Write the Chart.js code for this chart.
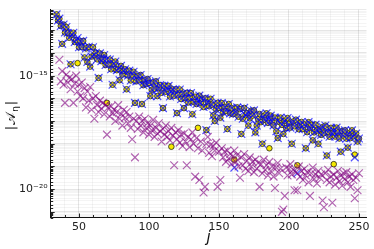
<!DOCTYPE html>
<html>
<head>
<meta charset="utf-8">
<script src="https://cdn.jsdelivr.net/npm/chart.js@4.4.0/dist/chart.umd.min.js"></script>
<style>
  html, body { margin: 0; padding: 0; background: #fff; }
</style>
</head>
<body>
<canvas id="chart" width="374" height="249"></canvas>
<script>
// j index (x axis)
const J = [
  34,35,36,37,38,39,40,41,42,43,
  44,45,46,47,48,49,50,51,52,53,
  54,55,56,57,58,59,60,61,62,63,
  64,65,66,67,68,69,70,71,72,73,
  74,75,76,77,78,79,80,81,82,83,
  84,85,86,87,88,89,90,91,92,93,
  94,95,96,97,98,99,100,101,102,103,
  104,105,106,107,108,109,110,111,112,113,
  114,115,116,117,118,119,120,121,122,123,
  124,125,126,127,128,129,130,131,132,133,
  134,135,136,137,138,139,140,141,142,143,
  144,145,146,147,148,149,150,151,152,153,
  154,155,156,157,158,159,160,161,162,163,
  164,165,166,167,168,169,170,171,172,173,
  174,175,176,177,178,179,180,181,182,183,
  184,185,186,187,188,189,190,191,192,193,
  194,195,196,197,198,199,200,201,202,203,
  204,205,206,207,208,209,210,211,212,213,
  214,215,216,217,218,219,220,221,222,223,
  224,225,226,227,228,229,230,231,232,233,
  234,235,236,237,238,239,240,241,242,243,
  244,245,246,247,248,249,250
];

// log10 |A_j|, blue crosses (same j order)
const blueLog = [
  -12.3,-12.57,-12.49,-12.81,-13.6,-12.75,-13.1,-12.86,-13.12,-13.33,
  -14.5,-13.2,-13.11,-13.52,-13.43,-13.34,-13.75,-13.49,-13.73,-13.47,
  -14.2,-13.8,-14.4,-13.73,-14.6,-14.16,-13.75,-14.09,-13.99,-14.28,
  -15.1,-14.02,-14.36,-14.25,-14.09,-14.53,-14.27,-14.5,-14.29,-14.72,
  -15.4,-14.49,-14.38,-14.76,-14.7,-15.2,-14.57,-14.95,-14.79,-14.72,
  -15.6,-14.99,-14.78,-15.21,-14.95,-14.83,-16.2,-15.25,-15.02,-15.2,
  -14.97,-16.25,-15.42,-15.2,-15.37,-15.15,-15.32,-15.9,-15.62,-15.3,
  -15.57,-15.25,-15.9,-15.55,-15.42,-15.75,-16.43,-15.44,-15.71,-15.58,
  -15.45,-15.92,-15.69,-15.61,-15.88,-15.6,-16.65,-15.84,-15.61,-16.03,
  -15.8,-16.43,-15.99,-15.76,-16.18,-15.95,-15.77,-16.7,-16.16,-15.93,
  -16.25,-16.11,-15.88,-16.2,-16.02,-16.38,-16.0,-17.4,-16.18,-16.35,
  -16.02,-16.28,-16.75,-17.0,-16.49,-16.2,-16.42,-16.85,-16.21,-16.62,
  -16.39,-16.56,-17.35,-16.25,-16.66,-16.43,-16.7,-19.05,-16.58,-16.4,
  -16.81,-16.48,-17.57,-16.9,-16.42,-16.74,-16.65,-17.2,-16.88,-16.55,
  -16.76,-16.53,-17.5,-17.2,-16.92,-16.69,-17.05,-18.0,-16.78,-16.95,
  -16.66,-17.08,-16.89,-16.76,-17.02,-17.19,-16.85,-17.45,-17.75,-17.04,
  -16.85,-17.17,-17.57,-16.99,-17.31,-16.87,-17.13,-17.29,-18.0,-17.02,
  -17.23,-16.94,-19.3,-17.36,-17.18,-17.04,-17.35,-17.16,-18.2,-17.49,
  -17.05,-17.31,-17.17,-17.85,-17.5,-17.16,-17.42,-18.0,-17.35,-17.61,
  -17.27,-17.54,-17.2,-18.52,-17.48,-17.69,-17.3,-17.56,-17.42,-17.68,
  -17.29,-17.51,-17.77,-18.35,-17.44,-17.65,-17.41,-17.77,-18.17,-17.54,
  -17.75,-17.41,-17.67,-18.6,-17.55,-17.9,-17.77
];

// log10 |A_j|, purple crosses
const purpleLog = [
  null,null,-14.3,-15.25,-14.8,-15.4,-16.2,-14.95,-15.3,-15.1,
  -15.6,-15.15,-16.2,-15.35,-15.0,-15.7,-15.4,-15.9,-15.3,-16.0,
  -15.55,-16.4,-15.7,-16.1,-15.5,-16.5,-16.0,-16.9,-15.9,-16.3,
  -16.6,-16.1,-16.45,-16.2,-16.7,-16.3,-17.6,-16.4,-16.8,-16.35,
  -16.65,-16.5,-17.0,-16.6,-16.3,-16.9,-16.7,-17.2,-16.5,-16.85,
  -16.6,-17.1,-16.8,-17.3,-17.8,-16.9,-18.6,-17.0,-17.35,-16.8,
  -17.2,-17.0,-17.5,-16.9,-17.3,-17.1,-17.6,-17.2,-17.4,-16.95,
  -17.7,-17.3,-17.55,-17.1,-17.45,-17.9,-17.35,-17.6,-17.2,-17.7,
  -17.45,-17.85,-17.3,-17.65,-18.95,-17.5,-17.8,-17.4,-17.95,-17.6,
  -18.1,-17.55,-17.9,-18.95,-17.7,-18.15,-17.8,-17.5,-18.0,-19.45,
  -17.75,-18.2,-19.6,-17.9,-18.3,-20.15,-19.9,-18.0,-17.7,-18.4,
  -18.05,-18.55,-18.1,-18.3,-17.95,-19.9,-18.35,-19.6,-18.2,-18.6,
  -18.35,-18.8,-18.3,-18.65,-18.45,-18.9,-18.55,-18.3,-18.8,-18.5,
  -19.0,-19.5,-18.6,-18.95,-18.45,-19.1,-18.75,-19.2,-18.6,-19.0,
  -18.8,-19.25,-18.7,-19.1,-18.85,-19.9,-18.9,-19.3,-18.7,-19.15,
  -18.95,-19.4,-18.8,-19.2,-19.0,-19.45,-19.95,-19.05,-18.85,-19.3,
  -19.1,-21.0,-20.9,-20.3,-19.05,-19.4,-19.1,-18.9,-19.35,-19.15,
  -20.05,-19.25,-20.05,-19.0,-19.45,-19.2,-19.6,-19.1,-19.4,-19.25,
  -19.7,-20.3,-19.3,-19.05,-19.55,-19.35,-19.75,-19.2,-19.5,-19.35,
  -20.5,-20.8,-19.3,-19.6,-19.15,-19.7,-19.45,-20.6,-19.35,-19.8,
  -19.5,-19.2,-19.65,-19.4,-19.85,-19.3,-19.55,-19.25,-19.7,-19.45,
  -19.9,-19.35,-19.6,-20.4,-19.5,-20.05,-19.3
];

// yellow circles sit on the blue crosses except at these j: [j, log10 value]
const yellowApart = [
  [49,-14.45],[70,-16.2],[116,-18.13],[135,-17.3],[161,-18.7],
  [186,-18.2],[206,-18.95],[232,-18.9],[247,-18.48]
];

const yTickText = { '-15': '10\u207B\u00B9\u2075', '-20': '10\u207B\u00B2\u2070' };
const xLabelEvery = 50;

const X_MIN = 29.8, X_MAX = 255.4;
const Y_MIN = Math.pow(10, -21.25), Y_MAX = Math.pow(10, -12.09);

function toPoints(vals) {
    return J.map((j, i) => vals[i] == null ? null : { x: j, y: Math.pow(10, vals[i]) }).filter(Boolean);
}
const apart = new Map(yellowApart);
const yellowLog = J.map((j, i) => apart.has(j) ? apart.get(j) : blueLog[i]);

const FONT = 'DejaVu Sans';

const innerTicks = {
    id: 'innerTicks',
    afterDraw(chart) {
        const { ctx, chartArea: a, scales: { x, y } } = chart;
        ctx.save();
        ctx.strokeStyle = '#222';
        ctx.lineWidth = 1;
        ctx.beginPath();
        y.ticks.forEach(t => {
            const py = Math.round(y.getPixelForValue(t.value)) + 0.5;
            const e = Math.log10(t.value);
            const len = Math.abs(e - Math.round(e)) < 1e-6 ? 4 : 2.5;
            ctx.moveTo(a.left, py); ctx.lineTo(a.left + len, py);
        });
        x.ticks.forEach(t => {
            if (t.value % 10 !== 0) return;
            const px = Math.round(x.getPixelForValue(t.value)) + 0.5;
            ctx.moveTo(px, a.bottom); ctx.lineTo(px, a.bottom - (t.value % 50 === 0 ? 4 : 2.5));
        });
        ctx.stroke();

        // y axis title |A_eta|
        ctx.translate(11, 115);
        ctx.rotate(-Math.PI / 2);
        ctx.fillStyle = '#111';
        ctx.textBaseline = 'alphabetic';
        const big = '13px ' + FONT, small = '9px ' + FONT;
        const parts = [['|', big, 0], ['\uD835\uDC9C', big, 0], ['\u03B7', small, 3], ['|', big, 0]];
        let w = 0;
        parts.forEach(p => { ctx.font = p[1]; w += ctx.measureText(p[0]).width + 1; });
        let cx = -w / 2;
        parts.forEach(p => {
            ctx.font = p[1];
            ctx.fillText(p[0], cx, 4 + p[2]);
            cx += ctx.measureText(p[0]).width + 1;
        });
        ctx.restore();
    }
};

new Chart(document.getElementById('chart'), {
    type: 'scatter',
    data: {
        datasets: [
            { label: 'purple', data: toPoints(purpleLog), pointStyle: 'crossRot', pointRadius: 5.5, borderWidth: 1.2, borderColor: 'rgba(128,0,128,0.6)', backgroundColor: 'rgba(128,0,128,0.6)', order: 0 },
            { label: 'blue', data: toPoints(blueLog), pointStyle: 'crossRot', pointRadius: 5.5, borderWidth: 1.2, borderColor: 'rgba(0,0,255,0.68)', backgroundColor: 'rgba(0,0,255,0.68)', order: 1 },
            { label: 'yellow', data: toPoints(yellowLog), pointStyle: 'circle', pointRadius: 2.8, borderWidth: 0.8, borderColor: '#222', backgroundColor: '#f5e800', order: 2 }
        ]
    },
    options: {
        responsive: false,
        animation: false,
        devicePixelRatio: 1,
        layout: { padding: { top: 7, right: 7.5, left: 0, bottom: 0 } },
        plugins: { legend: { display: false }, tooltip: { enabled: false } },
        scales: {
            x: {
                type: 'linear', min: X_MIN, max: X_MAX,
                border: { color: '#111', width: 1 },
                grid: {
                    drawTicks: false,
                    color: c => c.tick.value % xLabelEvery === 0 ? 'rgba(0,0,0,0.1)' : (c.tick.value % 10 === 0 ? 'rgba(0,0,0,0.045)' : 'rgba(0,0,0,0)')
                },
                ticks: {
                    stepSize: 10, autoSkip: false, includeBounds: false, maxRotation: 0, padding: 3,
                    color: '#222', font: { family: FONT, size: 11 },
                    callback: v => v % xLabelEvery === 0 ? String(v) : ''
                },
                title: { display: true, text: 'j', color: '#111', font: { family: FONT, size: 15, style: 'italic' }, padding: { top: 0, bottom: 2 } },
                afterFit: s => { s.height = 31.5; }
            },
            y: {
                type: 'logarithmic', min: Y_MIN, max: Y_MAX,
                border: { color: '#111', width: 1 },
                grid: {
                    drawTicks: false,
                    color: c => {
                        const e = Math.log10(c.tick.value);
                        return Math.abs(e - Math.round(e)) < 1e-6 ? 'rgba(0,0,0,0.1)' : 'rgba(0,0,0,0.045)';
                    }
                },
                ticks: {
                    autoSkip: false, padding: 3, color: '#222', font: { family: FONT, size: 11 },
                    callback: v => {
                        const e = Math.log10(v), r = Math.round(e);
                        return Math.abs(e - r) < 1e-6 && yTickText[r] ? yTickText[r] : '';
                    }
                },
                afterFit: s => { s.width = 50.7; }
            }
        }
    },
    plugins: [innerTicks]
});
</script>
</body>
</html>
